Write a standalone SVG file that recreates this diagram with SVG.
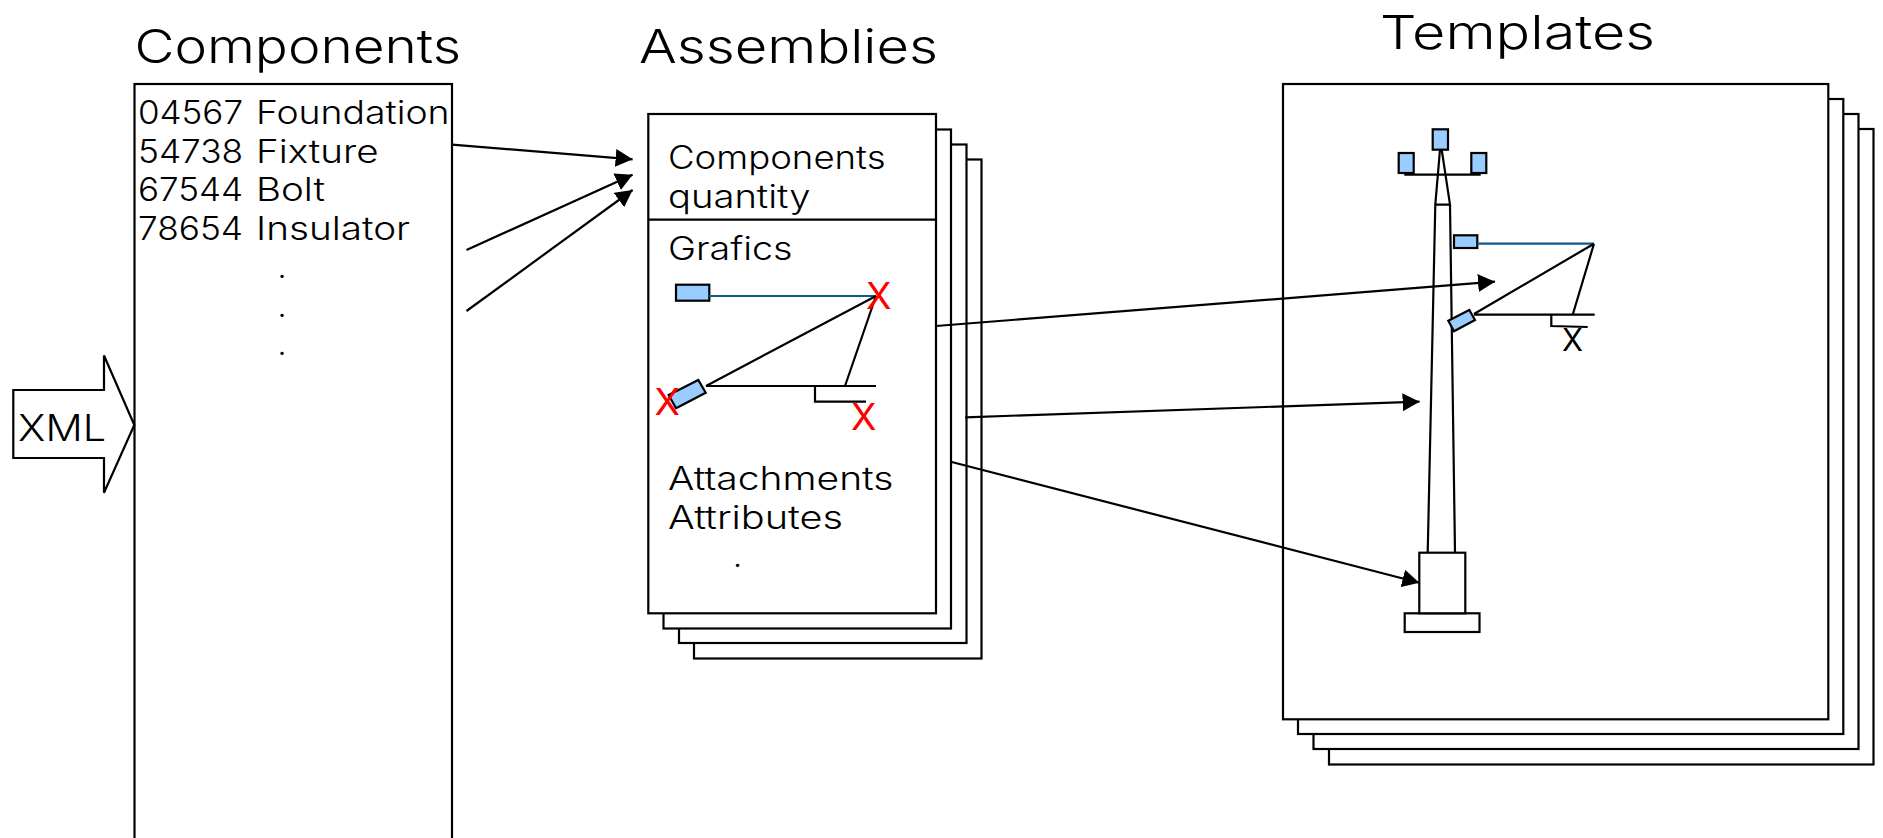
<svg xmlns="http://www.w3.org/2000/svg" width="1883" height="838" viewBox="0 0 1883 838">
<style>
text{font-family:Inter,"Liberation Sans",Arial,sans-serif;font-weight:300;fill:#000}
.h{font-size:46.5px}
.b{font-size:32px}
.xm{font-size:36.5px}
.rx{font-size:36.5px;font-weight:400;fill:#f00}
.bx{font-size:31px;font-weight:400}
.s{fill:#fff;stroke:#000;stroke-width:2.2}
.bl{fill:#99ccff;stroke:#000;stroke-width:2.2}
.l{fill:none;stroke:#000;stroke-width:2.2}
.lb{fill:none;stroke:#0a5a8f;stroke-width:2.2}
.c{fill:none;stroke:#000;stroke-width:2.2;marker-end:url(#ah)}
</style>
<defs>
<marker id="ah" markerUnits="userSpaceOnUse" markerWidth="18" markerHeight="18" refX="17" refY="9" orient="auto"><path d="M0 0L17 9L0 18z" fill="#000"/></marker>
</defs>
<rect width="1883" height="838" fill="#fff"/>
<g id="title-components"><text class="h" x="134.5" y="63" textLength="326.5" lengthAdjust="spacingAndGlyphs">Components</text></g>
<g id="title-assemblies"><text class="h" x="639" y="63" textLength="299" lengthAdjust="spacingAndGlyphs">Assemblies</text></g>
<g id="title-templates"><text class="h" x="1380" y="49" textLength="275" lengthAdjust="spacingAndGlyphs">Templates</text></g>
<g id="components">
<rect class="s" x="134.5" y="84" width="317.5" height="790"/>
<text class="b" y="124"><tspan x="138" textLength="105" lengthAdjust="spacingAndGlyphs">04567</tspan> <tspan x="256" textLength="193.5" lengthAdjust="spacingAndGlyphs">Foundation</tspan></text>
<text class="b" y="162.5"><tspan x="138" textLength="105" lengthAdjust="spacingAndGlyphs">54738</tspan> <tspan x="256" textLength="122.5" lengthAdjust="spacingAndGlyphs">Fixture</tspan></text>
<text class="b" y="201"><tspan x="138" textLength="105" lengthAdjust="spacingAndGlyphs">67544</tspan> <tspan x="256" textLength="69" lengthAdjust="spacingAndGlyphs">Bolt</tspan></text>
<text class="b" y="239.5"><tspan x="138" textLength="105" lengthAdjust="spacingAndGlyphs">78654</tspan> <tspan x="256" textLength="154" lengthAdjust="spacingAndGlyphs">Insulator</tspan></text>
<text class="b" x="277.5" y="278">.</text>
<text class="b" x="277.5" y="316.5">.</text>
<text class="b" x="277.5" y="355">.</text>
</g>
<g id="xml">
<path class="s" d="M13.3 390H104V355.5L134.3 425L104 492.7V458H13.3z"/>
<text class="xm" x="18" y="440.7" textLength="88" lengthAdjust="spacingAndGlyphs">XML</text>
</g>
<g id="assemblies">
<rect class="s" x="694" y="159.5" width="287.5" height="499"/>
<rect class="s" x="679" y="144.5" width="287.5" height="498.5"/>
<rect class="s" x="663.5" y="129.5" width="287.5" height="499"/>
<rect class="s" x="648.3" y="114" width="287.7" height="499.3"/>
<path class="l" d="M648.3 219.7H936"/>
<text class="b" x="668" y="168.8" textLength="217.5" lengthAdjust="spacingAndGlyphs">Components</text>
<text class="b" x="668" y="207.5" textLength="142.5" lengthAdjust="spacingAndGlyphs">quantity</text>
<text class="b" x="668" y="260" textLength="124.5" lengthAdjust="spacingAndGlyphs">Grafics</text>
<rect class="bl" x="676" y="284.7" width="33.3" height="16"/>
<path class="lb" d="M709 296H876"/>
<path class="l" d="M876 296L706 386M876 296L845 386M706 386H876M815 386V401.7H866"/>
<path class="bl" d="M668.7 395L698.3 380L705.7 392.7L676 408.3z"/>
<text class="rx" x="866" y="309.3" textLength="25.5" lengthAdjust="spacingAndGlyphs">X</text>
<text class="rx" x="654.5" y="415.3" textLength="25.5" lengthAdjust="spacingAndGlyphs">X</text>
<text class="rx" x="851" y="430" textLength="25.5" lengthAdjust="spacingAndGlyphs">X</text>
<text class="b" x="668" y="490" textLength="225.5" lengthAdjust="spacingAndGlyphs">Attachments</text>
<text class="b" x="668" y="529" textLength="175" lengthAdjust="spacingAndGlyphs">Attributes</text>
<text class="b" x="733" y="567">.</text>
</g>
<g id="templates">
<rect class="s" x="1329" y="129" width="544.5" height="635.5"/>
<rect class="s" x="1313.5" y="114" width="545" height="635"/>
<rect class="s" x="1298" y="99" width="545.3" height="635"/>
<rect class="s" x="1283" y="84" width="545.3" height="635.3"/>
<path class="l" d="M1440 149.7L1435.3 204.7H1450L1441.7 149.7M1435.3 204.7L1427.7 552.7M1450 204.7L1455 552.7M1404.3 174.7H1480.7"/>
<rect class="bl" x="1432.7" y="129.3" width="15.3" height="20.4"/>
<rect class="bl" x="1398.7" y="153" width="15" height="20"/>
<rect class="bl" x="1471.3" y="153" width="15" height="20"/>
<rect class="bl" x="1454" y="235.3" width="23.3" height="12.7"/>
<path class="lb" d="M1477.3 243.7H1594"/>
<path class="l" d="M1594 243.7L1474 314M1594 243.7L1572.7 314.7M1474 314.7H1594.7M1551.3 314.7V326L1587.7 327"/>
<path class="bl" d="M1448.3 320.7L1469.3 310L1475 320L1454 331.3z"/>
<text class="bx" x="1562" y="350.7" textLength="21" lengthAdjust="spacingAndGlyphs">X</text>
<rect class="s" x="1404.7" y="613.3" width="74.8" height="18.7"/>
<rect class="s" x="1419.3" y="552.7" width="46" height="60.6"/>
</g>
<g id="connectors">
<path class="c" d="M452 144.7L632.6 159.3"/>
<path class="c" d="M466.5 250L632.6 174.7"/>
<path class="c" d="M466.5 311L632.6 190"/>
<path class="c" d="M936 326L1495 281.7"/>
<path class="c" d="M965.3 417.3L1419.6 401.7"/>
<path class="c" d="M951.7 462L1419.3 582.7"/>
</g>
</svg>
